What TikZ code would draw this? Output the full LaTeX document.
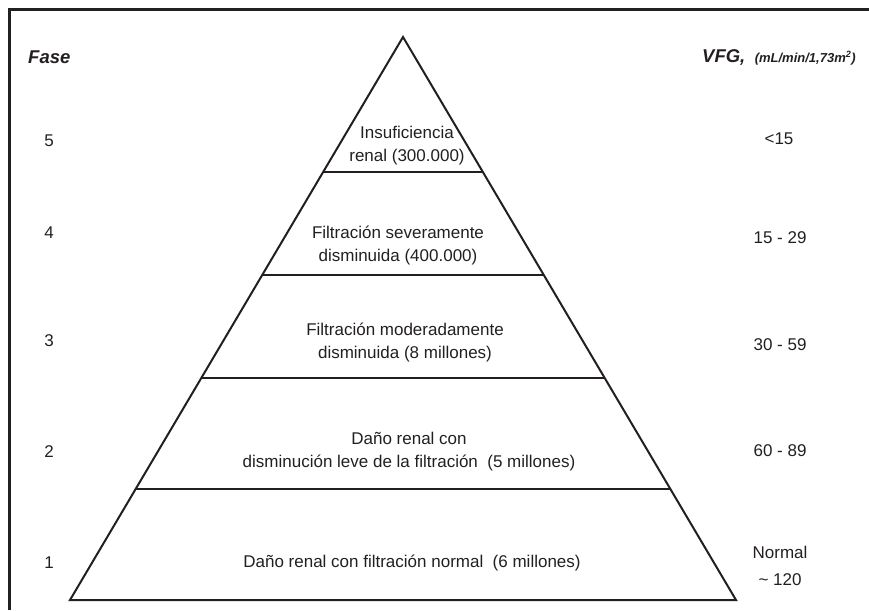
\documentclass[tikz,border=0pt]{standalone}
\usepackage{fontspec}
\setmainfont{Liberation Sans}
\usetikzlibrary{calc,positioning}
\definecolor{inkgray}{HTML}{231F20}
\begin{document}
\begin{tikzpicture}[x=1pt,y=-1pt]

\def\LINECOLOR{inkgray}
\tikzset{
  tier/.style={align=center,text=inkgray,font=\fontsize{17}{23}\selectfont},
  phase/.style={text=inkgray,font=\fontsize{17}{23}\selectfont},
  header/.style={text=inkgray,font=\fontsize{18.5}{20}\selectfont\bfseries\itshape}
}
	\useasboundingbox (0,0) rectangle (869,610);
	\draw[\LINECOLOR,line width=3pt] (9.5,610) -- (9.5,9.5) -- (869,9.5);
	% piramide
	\coordinate (apex) at (403,37);
	\coordinate (baseL) at (70,600);
	\coordinate (baseR) at (736,600);
	\draw[\LINECOLOR,line width=2pt,line join=miter] (apex) -- (baseL) -- (baseR) -- cycle;
	\foreach \t [count=\i] in {0.2398,0.4227,0.6057,0.8028} {
		\coordinate (L\i) at ($(apex)!\t!(baseL)$);
		\coordinate (R\i) at ($(apex)!\t!(baseR)$);
		\draw[\LINECOLOR,line width=1.6pt] (L\i) -- (R\i);
	}
	% niveles
	\node[tier] (tier5) at (407,146) {Insuficiencia\\renal (300.000)};
	\node[tier] (tier4) at (398,245) {Filtración severamente\\disminuida (400.000)};
	\node[tier] (tier3) at (405,342) {Filtración moderadamente\\disminuida (8 millones)};
	\node[tier] (tier2) at (409,452) {Daño renal con\\disminución leve de la filtración~~(5 millones)};
	\node[tier] (tier1) at (412,563) {Daño renal con filtración normal~~(6 millones)};
	% encabezados
	\node[header,anchor=west,inner sep=0pt] (fase) at (28,57) {Fase};
	\node[header,anchor=west,inner sep=0pt] (vfg) at (702,57) {VFG,};
	\node[text=inkgray,font=\fontsize{13}{15}\selectfont\bfseries\itshape,inner sep=0pt,right=9pt of vfg.base east,anchor=base west] (units) {(mL/min/1,73m\textsuperscript{2})};
	% fases
	\node[phase] (f5) at (49,141) {5};
	\node[phase] (f4) at (49,233) {4};
	\node[phase] (f3) at (49,341) {3};
	\node[phase] (f2) at (49,452) {2};
	\node[phase] (f1) at (49,563) {1};
	% VFG
	\node[phase] (v5) at (779,139) {<15};
	\node[phase] (v4) at (780,238) {15 - 29};
	\node[phase] (v3) at (780,345) {30 - 59};
	\node[phase] (v2) at (780,451) {60 - 89};
	\node[tier,font=\fontsize{17}{27}\selectfont] (v1) at (780,566) {Normal\\\textasciitilde{} 120};

\end{tikzpicture}
\end{document}
